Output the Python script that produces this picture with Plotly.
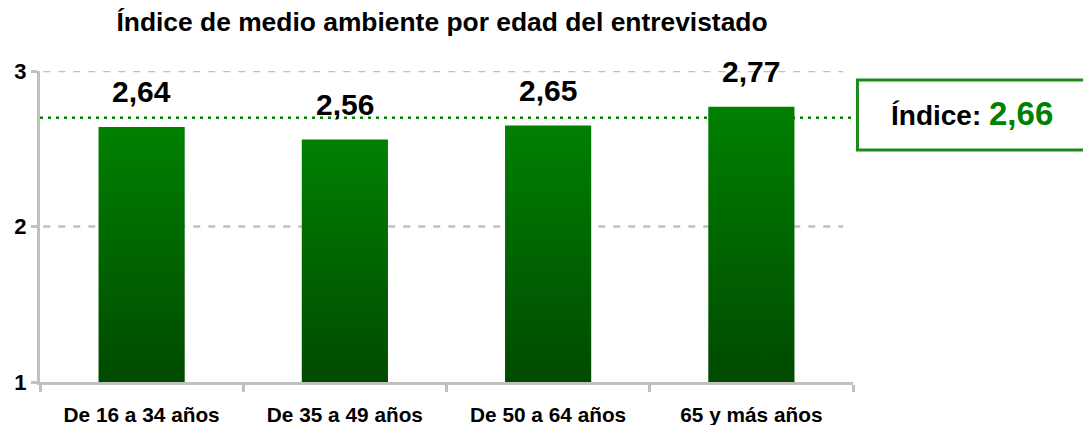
import plotly.graph_objects as go

title = "Índice de medio ambiente por edad del entrevistado"
categories = ["De 16 a 34 años", "De 35 a 49 años", "De 50 a 64 años", "65 y más años"]
values = [2.64, 2.56, 2.65, 2.77]
value_labels = ["2,64", "2,56", "2,65", "2,77"]
index_value_label = "2,66"
index_line_level = 2.70
y_ticks = [1, 2, 3]

bar_half = 0.212
base = 1
FONT = "Liberation Sans, Arial"

# page body has an 8px margin: figure is shrunk by 8px so it fits the window
W, H = 1083, 417

fig = go.Figure()
for i, (c, v) in enumerate(zip(categories, values)):
    fig.add_trace(go.Scatter(
        x=[i - bar_half, i - bar_half, i + bar_half, i + bar_half, i - bar_half],
        y=[base, v, v, base, base],
        mode="lines", line=dict(width=0),
        fill="toself",
        fillgradient=dict(type="vertical",
                          colorscale=[[0, "#004a00"], [1, "#008000"]]),
        hoverinfo="skip", showlegend=False, name=c,
    ))
    fig.add_annotation(x=i, y=v, text="<b>%s</b>" % value_labels[i],
                       showarrow=False, xanchor="center", yanchor="middle", yshift=35,
                       font=dict(family=FONT, size=30, color="#000"))

# dashed grid lines
for t in y_ticks[1:]:
    fig.add_shape(type="line", xref="paper", yref="y", x0=0.004, x1=0.988,
                  y0=t, y1=t, layer="below",
                  line=dict(color="#c0c0c0", width=2.5, dash="7px,8px"))

# index dotted line
fig.add_shape(type="line", xref="paper", yref="y", x0=0, x1=1.003,
              y0=index_line_level, y1=index_line_level, layer="below",
              line=dict(color="#008000", width=2.5, dash="3px,5px"))
# index box
fig.add_shape(type="rect", xref="paper", yref="paper", x0=1.0055, x1=1.290,
              y0=0.746, y1=0.971, line=dict(color="#1e8a1e", width=3),
              fillcolor="white")
fig.add_annotation(xref="paper", yref="paper", x=(972 - 40) / 813, y=(382 - 113) / 311,
                   xanchor="center", yanchor="middle",
                   text='<b>Índice: <span style="color:#008000;font-size:33px">%s</span></b>' % index_value_label,
                   showarrow=False, font=dict(family=FONT, size=28, color="#000"))

fig.update_layout(
    width=W, height=H,
    margin=dict(l=32, r=238, t=63, b=43, autoexpand=False),
    plot_bgcolor="white", paper_bgcolor="white",
    title=dict(text="<b>%s</b>" % title, x=(442 - 8) / W, xanchor="center",
               y=1 - (22 - 8) / H, yanchor="middle",
               font=dict(family=FONT, size=26.4, color="#000")),
    font=dict(family=FONT, color="#000"),
    xaxis=dict(range=[-0.5, 3.5], tickmode="array", tickvals=list(range(len(categories))),
               ticktext=["<b>%s</b>" % c for c in categories], showgrid=False,
               zeroline=False, showline=True, linecolor="#c0c0c0", linewidth=3,
               ticks="", tickfont=dict(size=20.8), ticklabelstandoff=12,
               automargin=False,
               minor=dict(tickmode="array", tickvals=[-0.5, 0.5, 1.5, 2.5, 3.5],
                          ticks="outside", ticklen=7, tickcolor="#c0c0c0", tickwidth=3,
                          showgrid=False),
               fixedrange=True),
    yaxis=dict(range=[1, 3], tickmode="array", tickvals=y_ticks,
               ticktext=["<b>%d</b>" % t for t in y_ticks],
               showgrid=False,
               zeroline=False, showline=True, linecolor="#c0c0c0", linewidth=3,
               ticks="outside", ticklen=6, tickcolor="#c0c0c0", tickwidth=3,
               tickfont=dict(size=22), automargin=False, fixedrange=True),
)

fig.write_html("out.html")
